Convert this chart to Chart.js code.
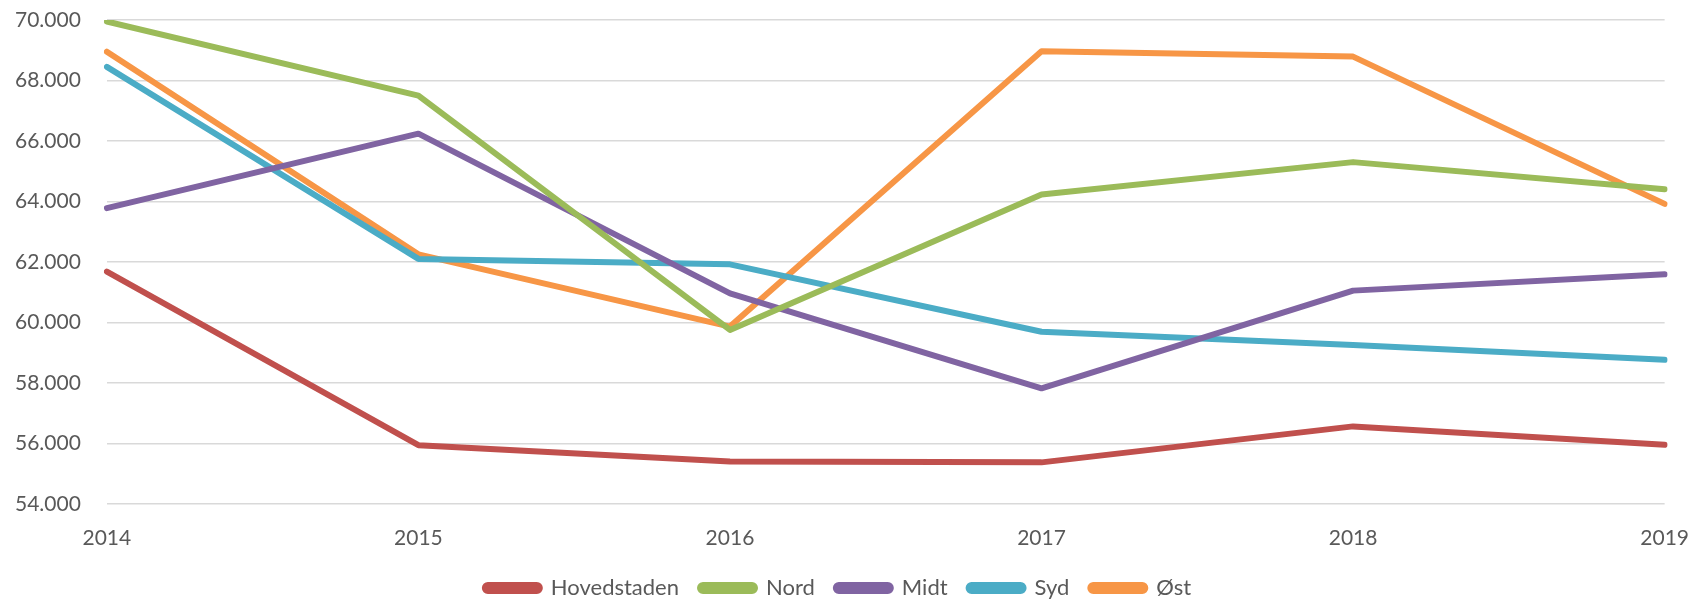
<!DOCTYPE html>
<html>
<head>
<meta charset="utf-8">
<script src="https://cdn.jsdelivr.net/npm/chart.js@4"></script>
<style>
  html, body { margin: 0; padding: 0; background: #fff; }
  #wrap { width: 1703px; height: 601px; }
</style>
</head>
<body>
<div id="wrap"><canvas id="regionChart" width="1703" height="601"></canvas></div>
<script>
const years = ['2014', '2015', '2016', '2017', '2018', '2019'];
const hovedstaden = [61680, 55940, 55400, 55370, 56560, 55950];
const nord = [69950, 67500, 59750, 64230, 65300, 64400];
const midt = [63780, 66240, 60960, 57820, 61050, 61590];
const syd = [68450, 62100, 61920, 59690, 59250, 58760];
const oest = [68950, 62250, 59860, 68970, 68790, 63920];

const regionChart = document.querySelector('#regionChart');

function line(label, data, color) {
    return {
        label: label,
        data: data,
        borderColor: color,
        backgroundColor: color,
        borderWidth: 6,
        borderCapStyle: 'round',
        borderJoinStyle: 'round',
        pointRadius: 0,
        tension: 0
    };
}

new Chart(regionChart, {
    type: 'line',
    data: {
        labels: years,
        datasets: [
            line('Hovedstaden', hovedstaden, '#C0504D'),
            line('Nord', nord, '#9BBB59'),
            line('Midt', midt, '#8064A2'),
            line('Syd', syd, '#4BACC6'),
            line('Øst', oest, '#F79646')
        ]
    },
    options: {
        responsive: false,
        animation: false,
        layout: { padding: { left: -11, right: 16, top: 0, bottom: -8 } },
        plugins: {
            tooltip: { enabled: false },
            legend: {
                position: 'bottom',
                labels: {
                    color: '#595959',
                    font: { family: 'Lato', size: 22 },
                    boxWidth: 55,
                    boxHeight: 6,
                    useBorderRadius: true,
                    borderRadius: 3,
                    padding: 21
                }
            }
        },
        scales: {
            x: {
                offset: false,
                grid: { display: false },
                border: { display: false },
                afterFit: function (scale) { scale.height -= 9; },
                ticks: {
                    color: '#595959',
                    font: { family: 'Lato', size: 21 },
                    padding: 14,
                    maxRotation: 0
                }
            },
            y: {
                min: 54000,
                max: 70000,
                grid: { color: '#d9d9d9', lineWidth: 1.5, drawTicks: false },
                border: { display: false },
                afterFit: function (scale) { scale.paddingTop = 20; },
                ticks: {
                    stepSize: 2000,
                    color: '#595959',
                    font: { family: 'Lato', size: 21 },
                    padding: 26,
                    callback: function (v) { return (v / 1000).toFixed(3); }
                }
            }
        }
    }
});
</script>
</body>
</html>
